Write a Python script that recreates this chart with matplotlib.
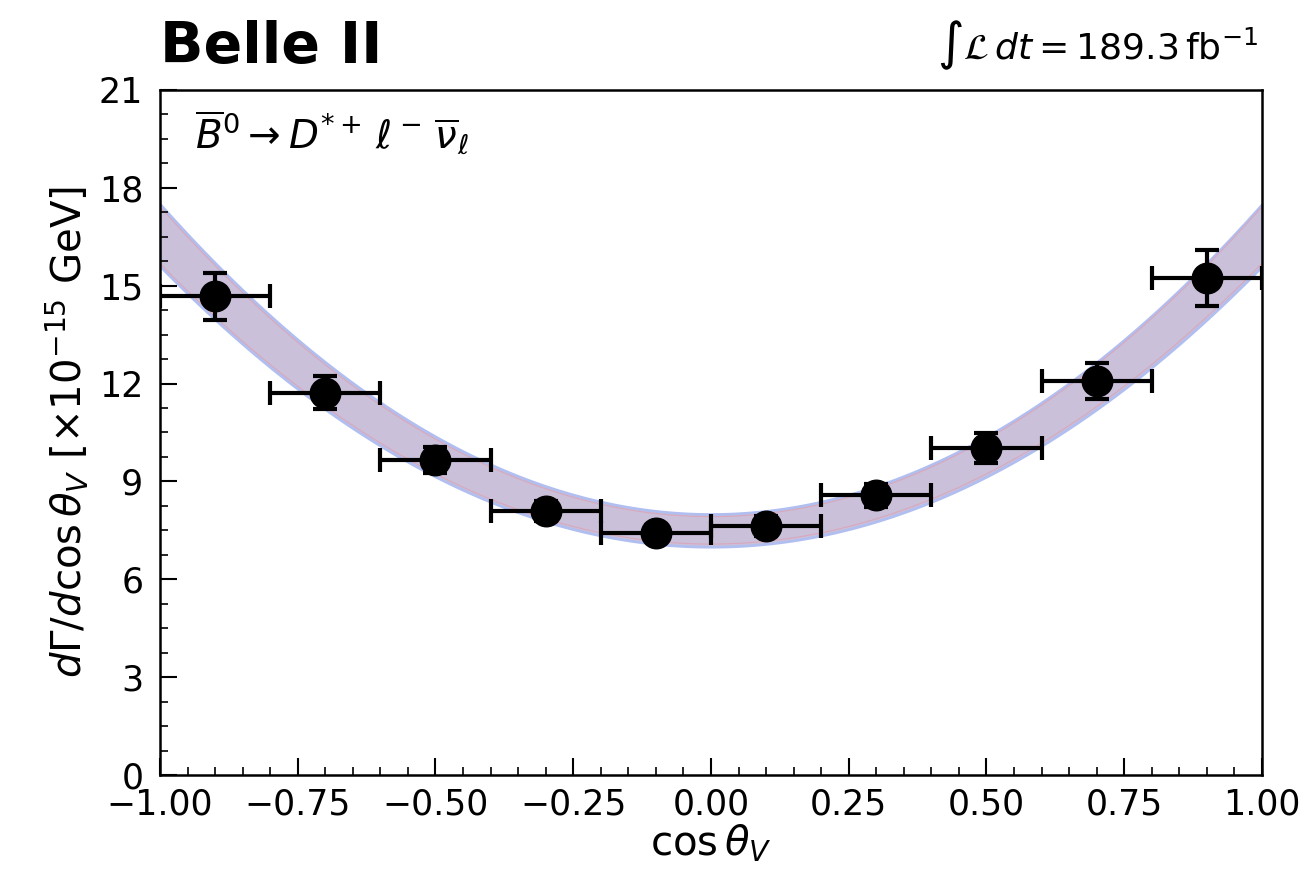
import numpy as np
import matplotlib.pyplot as plt
from matplotlib.ticker import MultipleLocator

# measured differential rate in bins of cos(theta_V)
bin_centers = [-0.9, -0.7, -0.5, -0.3, -0.1, 0.1, 0.3, 0.5, 0.7, 0.9]
bin_half_width = [0.1] * 10
rate = [14.68, 11.72, 9.66, 8.09, 7.42, 7.63, 8.58, 10.03, 12.09, 15.23]
rate_err = [0.72, 0.50, 0.40, 0.30, 0.25, 0.30, 0.35, 0.45, 0.55, 0.85]

# fit band: a + b*cos^2(theta_V) for upper and lower edges
band_upper = (8.0, 9.5)
band_lower = (7.0, 8.6)

fig = plt.figure(figsize=(13.03, 8.82), dpi=100)
ax = fig.add_axes([0.1228, 0.1213, 0.8457, 0.7767])

c = np.linspace(-1, 1, 400)
up = band_upper[0] + band_upper[1] * c**2
lo = band_lower[0] + band_lower[1] * c**2
ax.fill_between(c, lo, up, facecolor='#cbc0d9', edgecolor='#b0bef0', linewidth=2, zorder=1)
inset = 0.08
ax.plot(c, up - inset, color='#d8a8bc', lw=0.8, zorder=1.5)
ax.plot(c, lo + inset, color='#d8a8bc', lw=0.8, zorder=1.5)

ax.errorbar(bin_centers, rate, xerr=bin_half_width, yerr=rate_err, fmt='o', color='black',
            ms=22, elinewidth=3, capsize=8.5, capthick=3, zorder=3)

ax.set_xlim(-1, 1)
ax.set_ylim(0, 21)
ax.xaxis.set_major_locator(MultipleLocator(0.25))
ax.xaxis.set_minor_locator(MultipleLocator(0.05))
ax.yaxis.set_major_locator(MultipleLocator(3))
ax.yaxis.set_minor_locator(MultipleLocator(0.75))
ax.tick_params(which='both', direction='in', top=False, right=False, labelsize=25)
ax.tick_params(axis='x', which='major', pad=9)
ax.tick_params(axis='y', which='major', pad=12)
ax.tick_params(which='major', length=12, width=1.5)
ax.tick_params(which='minor', length=6, width=1.2)
for s in ax.spines.values():
    s.set_linewidth(1.8)

ax.set_xlabel(r'$\cos\theta_V$', fontsize=29, labelpad=1)
ax.set_ylabel(r'$d\Gamma/d\cos\theta_V\ [\times 10^{-15}\ \mathrm{GeV}]$', fontsize=29, labelpad=6)

ax.text(0.0, 1.04, 'Belle II', transform=ax.transAxes, fontsize=41, fontweight='bold',
        ha='left', va='baseline')
ax.text(0.997, 1.045, r'$\int\mathcal{L}\,dt = 189.3\,\mathrm{fb}^{-1}$', transform=ax.transAxes,
        fontsize=26, ha='right', va='baseline')
ax.text(0.032, 0.915, r'$\overline{B}^0 \rightarrow D^{*+}\,\ell^-\,\overline{\nu}_\ell$',
        transform=ax.transAxes, fontsize=28, ha='left', va='baseline')

fig.savefig('out.png', dpi=100)
